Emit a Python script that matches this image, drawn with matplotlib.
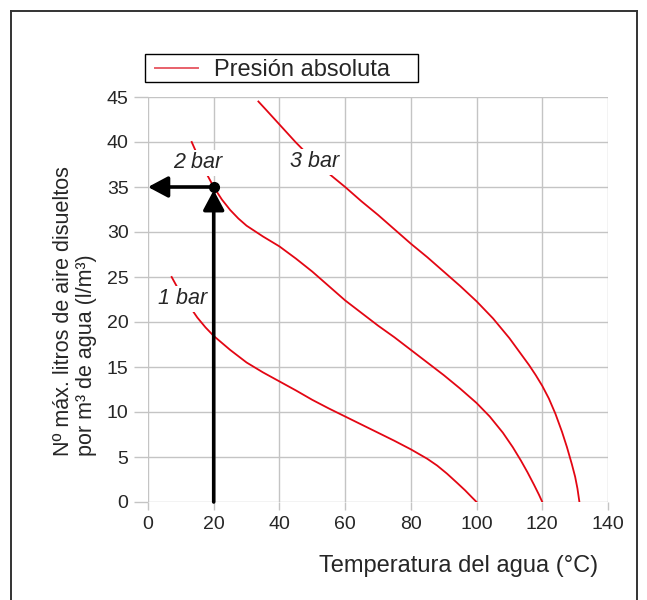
import matplotlib
matplotlib.use("Agg")
import matplotlib.pyplot as plt
from matplotlib.lines import Line2D
from matplotlib.patches import Rectangle

plt.rcParams['font.family'] = ['Liberation Sans', 'DejaVu Sans']

# ---- data ----
t_1bar = [7.2, 9, 12, 15, 17.5, 20, 25, 30, 35, 40, 45, 50, 55, 60, 65, 70, 75, 80, 85, 88, 91, 94, 96.5,
          98.5, 100]
v_1bar = [25.0, 23.8, 22.1, 20.5, 19.4, 18.45, 16.9, 15.5, 14.4, 13.4, 12.4, 11.35, 10.4, 9.5, 8.6, 7.7, 6.8,
          5.85, 4.8, 4.05, 3.15, 2.15, 1.3, 0.55, 0.0]

t_2bar = [13.3, 15, 17.5, 20, 22.5, 25, 27.5, 30, 35, 40, 45, 50, 55, 60, 65, 70, 75, 80, 85, 90, 95, 100,
          104, 108, 111, 113.5, 115.5, 117.5, 119, 120]
v_2bar = [40.0, 38.6, 36.7, 35.0, 33.6, 32.45, 31.5, 30.7, 29.5, 28.4, 27.05, 25.6, 24.0, 22.4, 21.0, 19.6,
          18.3, 16.9, 15.5, 14.1, 12.6, 11.0, 9.5, 7.7, 6.1, 4.6, 3.3, 1.9, 0.8, 0.0]

t_3bar = [33.6, 36, 40, 45, 50, 55, 60, 65, 70, 75, 80, 85, 90, 95, 100, 105, 110, 113, 116, 118, 120, 122,
          124, 126, 127.5, 129, 130, 130.7, 131.3]
v_3bar = [44.5, 43.55, 41.95, 39.95, 38.1, 36.5, 35.0, 33.4, 31.9, 30.3, 28.7, 27.2, 25.6, 24.0, 22.3, 20.4,
          18.2, 16.7, 15.2, 14.1, 12.9, 11.5, 9.8, 7.8, 6.1, 4.2, 2.8, 1.5, 0.0]

curve_labels = ["1 bar", "2 bar", "3 bar"]
label_pos = [(10.6, 22.6), (15.2, 37.7), (50.8, 37.8)]

x_ticks = [0, 20, 40, 60, 80, 100, 120, 140]
y_ticks = [0, 5, 10, 15, 20, 25, 30, 35, 40, 45]

example_t = 20
example_v = 35

legend_label = "Presión absoluta"
xlabel = "Temperatura del agua (°C)"
ylabel = "Nº máx. litros de aire disueltos\npor m³ de agua (l/m³)"

# ---- figure ----
W, H = 647, 600
fig = plt.figure(figsize=(W / 100, H / 100), dpi=100)
ax = fig.add_axes([148 / W, 1 - 502 / H, (608 - 148) / W, (502 - 97) / H])

red = '#e30613'
txt = '#262626'
grid_c = '#c4c4c4'

ax.set_xlim(0, 140)
ax.set_ylim(0, 45)
ax.set_xticks(x_ticks)
ax.set_yticks(y_ticks)
ax.grid(True, color=grid_c, lw=1.0, zorder=0)
for s in ax.spines.values():
    s.set_visible(False)
ax.tick_params(axis='y', length=10, width=1.0, color=grid_c, pad=4, labelsize=14, labelcolor=txt)
ax.tick_params(axis='x', length=6, width=1.0, color=grid_c, pad=4, labelsize=14, labelcolor=txt)

for tx, vy in [(t_1bar, v_1bar), (t_2bar, v_2bar), (t_3bar, v_3bar)]:
    ax.plot(tx, vy, color=red, lw=1.3, zorder=3, solid_joinstyle='round')

for lab, (x, y) in zip(curve_labels, label_pos):
    ax.text(x, y, lab, style='italic', fontsize=15.5, color=txt, ha='center', va='center',
            zorder=4, bbox=dict(boxstyle='square,pad=0.12', fc='white', ec='none'))

# arrows
arrow_props = dict(arrowstyle='-|>,head_length=0.6,head_width=0.32', lw=2.6, color='black',
                   shrinkA=0, shrinkB=0, mutation_scale=20)
ax.annotate('', xy=(example_t, example_v - 0.35), xytext=(example_t, 0),
            arrowprops=arrow_props, zorder=6, annotation_clip=False)
ax.annotate('', xy=(0, example_v), xytext=(example_t, example_v),
            arrowprops=arrow_props, zorder=6, annotation_clip=False)
ax.plot([example_t], [example_v], 'o', color='black', ms=7, zorder=7)

# legend box (drawn in figure pixels)
tf = fig.transFigure
fig.add_artist(Rectangle((145 / W, 1 - 81.5 / H), (418 - 145) / W, 27 / H, fill=False,
                         ec='black', lw=1.0, transform=tf))
fig.add_artist(Line2D([155 / W, 198 / W], [1 - 68 / H] * 2, color='#e8606a', lw=1.4, transform=tf))
fig.text(214 / W, 1 - 68 / H, legend_label, fontsize=17, color=txt, ha='left', va='center_baseline')

# axis labels
ax.set_xlabel(xlabel, fontsize=17, color=txt, ha='right')
ax.xaxis.set_label_coords((598 - 148) / 460, (502 - 555) / 405)
fig.text(75 / W, 1 - 456 / H, ylabel, rotation=90, fontsize=15.5, color=txt,
         ha='center', va='bottom', multialignment='left', linespacing=1.1)

# outer frame (left, top, right)
fc = '#333333'
fig.add_artist(Line2D([10.5 / W, 10.5 / W], [0, 1 - 11 / H], color=fc, lw=1.4, transform=tf))
fig.add_artist(Line2D([10.5 / W, 637 / W], [1 - 11 / H, 1 - 11 / H], color=fc, lw=1.4, transform=tf))
fig.add_artist(Line2D([637 / W, 637 / W], [0, 1 - 11 / H], color=fc, lw=1.4, transform=tf))

fig.savefig('out.png', dpi=100)
